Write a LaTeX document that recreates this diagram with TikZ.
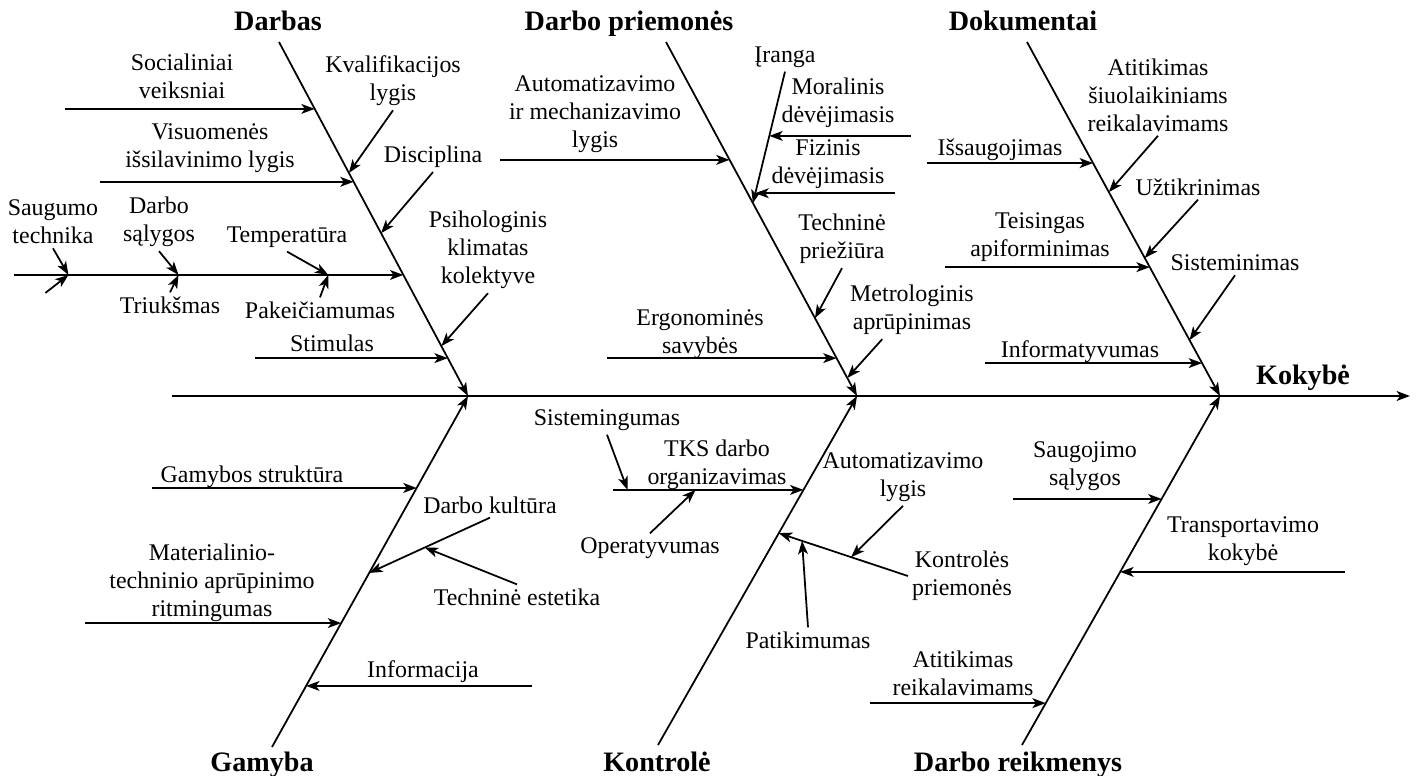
\documentclass[tikz,border=0pt]{standalone}
\usepackage{fontspec}
\setmainfont{Liberation Serif}
\usetikzlibrary{arrows.meta,calc}
\tikzset{
	lbl/.style={font=\fontsize{6.8}{8}\selectfont,align=center,inner sep=1pt},
	head/.style={font=\fontsize{8}{9.6}\selectfont\bfseries,inner sep=1pt,anchor=base},
	bone/.style={line width=.5pt,-{Stealth[length=3.8pt,width=2.8pt,inset=1pt]}},
	into/.style={line width=.5pt,{Stealth[length=3.8pt,width=2.8pt,inset=1pt]}-},
}
\begin{document}
\begin{tikzpicture}[x=0.01cm,y=-0.01cm]
				\useasboundingbox (0,0) rectangle (1418,776);
				% spine and the six bones
				\coordinate (j1) at (468,396);
				\coordinate (j2) at (857,396);
				\coordinate (j3) at (1220,396);
				\draw[bone] (172,396) -- (1410,396);
				\node[head] (kokybe) at (1303,384) {Kokybė};
				\node[head] (darbas) at (278,31) {Darbas};
				\node[head] (priem) at (629,31) {Darbo priemonės};
				\node[head] (dokum) at (1023,31) {Dokumentai};
				\node[head] (gamyba) at (262,771) {Gamyba};
				\node[head] (kontr) at (657,771) {Kontrolė};
				\node[head] (reikm) at (1018,771) {Darbo reikmenys};
				\draw[bone] (279,42) -- (j1) coordinate[pos=.189] (d1) coordinate[pos=.370] (d2) coordinate[pos=.395] (d3)
					coordinate[pos=.540] (d4) coordinate[pos=.658] (d5) coordinate[pos=.859] (d6) coordinate[pos=.893] (d7);
				\draw[bone] (666,42) -- (j2) coordinate[pos=.333] (p1) coordinate[pos=.455] (p2) coordinate[pos=.780] (p3)
					coordinate[pos=.893] (p4) coordinate[pos=.949] (p5);
				\draw[bone] (1027,42) -- (j3) coordinate[pos=.342] (k1) coordinate[pos=.424] (k2) coordinate[pos=.610] (k3)
					coordinate[pos=.636] (k4) coordinate[pos=.842] (k5) coordinate[pos=.907] (k6);
				\draw[bone] (272,747) -- (j1) coordinate[pos=.738] (g1) coordinate[pos=.496] (g2) coordinate[pos=.353] (g3)
					coordinate[pos=.174] (g4);
				\draw[bone] (658,745) -- (j2) coordinate[pos=.731] (c1) coordinate[pos=.607] (c2);
				\draw[bone] (1022,745) -- (j3) coordinate[pos=.705] (r1) coordinate[pos=.496] (r2) coordinate[pos=.120] (r3);
				% Darbas
				\node[lbl] (soc) at (182,76) {Socialiniai\\veiksniai};
				\draw[into] (d1) -- ++(-250,0);
				\node[lbl] (kval) at (393,81) {Kvalifikacijos\\lygis};
				\draw[into] (d2) -- (kval.south);
				\node[lbl] (visuom) at (210,148) {Visuomenės\\išsilavinimo lygis};
				\draw[into] (d3) -- ++(-254,0);
				\node[lbl] (discipl) at (433,157) {Disciplina};
				\draw[into] (d4) -- (discipl.south);
				\draw[into] (d5) -- ++(-389,0) coordinate[pos=.193] (ch1) coordinate[pos=.578] (ch2) coordinate[pos=.861] (ch3);
				\node[lbl] (saug) at (53,222) {Saugumo\\technika};
				\draw[into] (ch3) -- (saug.south);
				\draw[into] (ch3) -- ++(-23,18);
				\node[lbl] (salyg) at (159,222) {Darbo\\sąlygos};
				\draw[into] (ch2) -- (salyg.south);
				\node[lbl] (triuk) at (170,305) {Triukšmas};
				\draw[into] (ch2) -- (triuk.north);
				\node[lbl] (temp) at (287,237) {Temperatūra};
				\draw[into] (ch1) -- (temp.south);
				\node[lbl] (pakeic) at (320,310) {Pakeičiamumas};
				\draw[into] (ch1) -- (pakeic.north);
				\node[lbl] (psich) at (488,250) {Psihologinis\\klimatas\\kolektyve};
				\draw[into] (d6) -- (psich.south);
				\node[lbl] (stim) at (332,343) {Stimulas};
				\draw[into] (d7) -- ++(-193,0);
				% Darbo priemonės
				\node[lbl] (autmech) at (595,114) {Automatizavimo\\ir mechanizavimo\\lygis};
				\draw[into] (p1) -- ++(-230,0);
				\node[lbl] (iranga) at (785,57) {Įranga};
				\draw[into] (p2) -- (iranga.south) coordinate[pos=.511] (q1) coordinate[pos=.075] (q2);
				\node[lbl] (moral) at (838,103) {Moralinis\\dėvėjimasis};
				\draw[into] (q1) -- ++(142,0);
				\node[lbl] (fizin) at (828,164) {Fizinis\\dėvėjimasis};
				\draw[into] (q2) -- ++(140,0);
				\node[lbl] (prieziura) at (842,239) {Techninė\\priežiūra};
				\draw[into] (p3) -- (prieziura.south);
				\node[lbl] (ergon) at (700,334) {Ergonominės\\savybės};
				\draw[into] (p4) -- ++(-230,0);
				\node[lbl] (metro) at (912,310) {Metrologinis\\aprūpinimas};
				\draw[into] (p5) -- ($(metro.south)!.45!(metro.south west)$);
				% Dokumentai
				\node[lbl] (atsiuol) at (1158,95) {Atitikimas\\šiuolaikiniams\\reikalavimams};
				\draw[into] (k2) -- (atsiuol.south);
				\node[lbl] (issaug) at (1000,150) {Išsaugojimas};
				\draw[into] (k1) -- ++(-166,0);
				\node[lbl] (uztikr) at (1198,187) {Užtikrinimas};
				\draw[into] (k3) -- (uztikr.south);
				\node[lbl] (teising) at (1040,237) {Teisingas\\apiforminimas};
				\draw[into] (k4) -- ++(-205,0);
				\node[lbl] (sistem) at (1235,263) {Sisteminimas};
				\draw[into] (k5) -- (sistem.south);
				\node[lbl] (inform) at (1080,352) {Informatyvumas};
				\draw[into] (k6) -- ++(-217,0);
				% Gamyba
				\node[lbl] (gstrukt) at (252,477) {Gamybos struktūra};
				\draw[into] (g1) -- ++(-265,0);
				\node[lbl] (dkult) at (490,505) {Darbo kultūra};
				\draw[into] (g2) -- (dkult.south) coordinate[pos=.46] (g2a);
				\node[lbl] (estet) at (517,597) {Techninė estetika};
				\draw[into] (g2a) -- (estet.north);
				\node[lbl] (ritm) at (212,583) {Materialinio-\\techninio aprūpinimo\\ritmingumas};
				\draw[into] (g3) -- ++(-256,0);
				\node[lbl] (informac) at (423,672) {Informacija};
				\draw[into] (g4) -- ++(226,0);
				% Kontrolė
				\node[lbl] (sistgum) at (607,420) {Sistemingumas};
				\node[lbl] (tks) at (717,465) {TKS darbo\\organizavimas};
				\draw[into] (c1) -- ++(-190,0) coordinate[pos=.926] (c1a) coordinate[pos=.568] (c1b);
				\draw[into] (c1a) -- (sistgum.south);
				\node[lbl] (operat) at (650,548) {Operatyvumas};
				\draw[into] (c1b) -- (operat.north);
				\node[lbl] (kpriem) at (962,576) {Kontrolės\\priemonės};
				\draw[into] (c2) -- (kpriem.west) coordinate[pos=.56] (c2a) coordinate[pos=.18] (c2b);
				\node[lbl] (autlyg) at (903,477) {Automatizavimo\\lygis};
				\draw[into] (c2a) -- (autlyg.south);
				\node[lbl] (patik) at (808,640) {Patikimumas};
				\draw[into] (c2b) -- (patik.north);
				% Darbo reikmenys
				\node[lbl] (saugoj) at (1085,466) {Saugojimo\\sąlygos};
				\draw[into] (r1) -- ++(-149,0);
				\node[lbl] (transp) at (1243,541) {Transportavimo\\kokybė};
				\draw[into] (r2) -- ++(225,0);
				\node[lbl] (atreik) at (963,673) {Atitikimas\\reikalavimams};
				\draw[into] (r3) -- ++(-176,0);
			\end{tikzpicture}
\end{document}
